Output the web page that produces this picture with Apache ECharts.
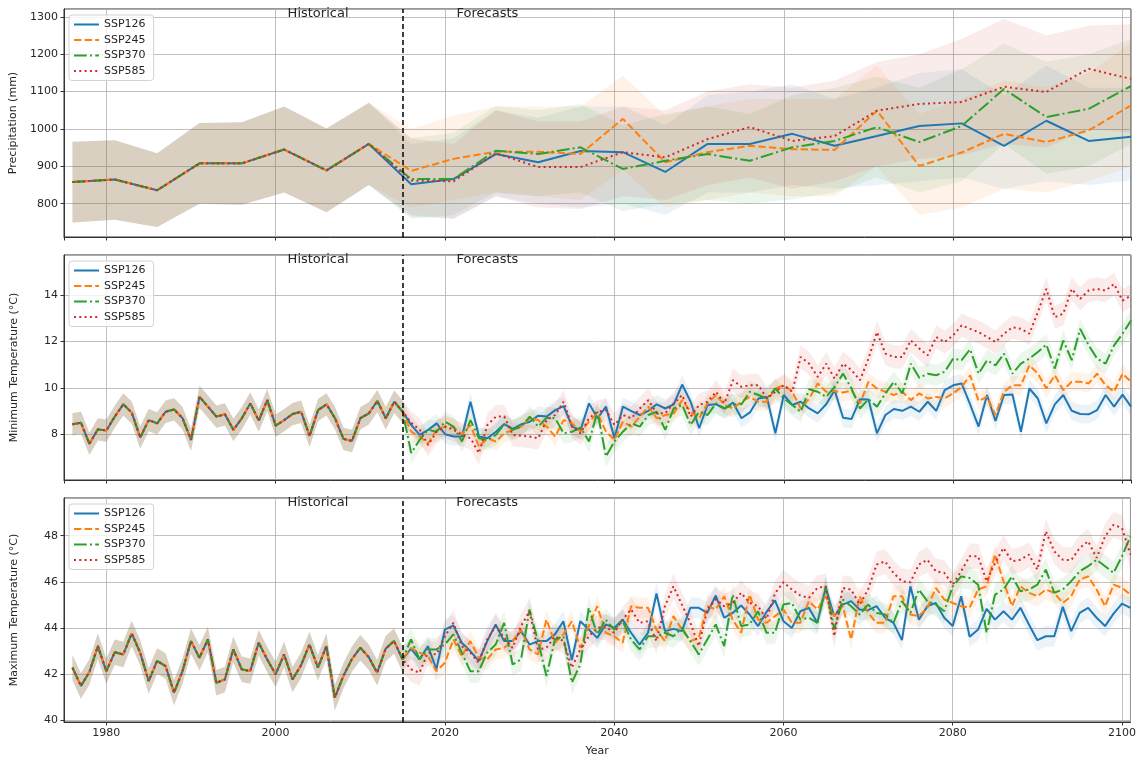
<!DOCTYPE html>
<html>
<head>
<meta charset="utf-8">
<title>Precipitation and temperature projections</title>
<script src="https://cdn.jsdelivr.net/npm/echarts@6/dist/echarts.min.js"></script>
<style>
html, body { margin: 0; padding: 0; background: #ffffff; }
#chart { width: 1139px; height: 759px; }
</style>
</head>
<body>
<div id="chart"></div>
<script>
// ---------------- data ----------------
const scenarios = ['SSP126', 'SSP245', 'SSP370', 'SSP585'];

// Precipitation (mm), 5-year steps
const precipHistYears = [1976, 1981, 1986, 1991, 1996, 2001, 2006, 2011];
const precipHist = [858, 865, 836, 908, 908, 945, 889, 960];
const precipHistLow = [750, 757, 738, 800, 797, 830, 777, 850];
const precipHistHigh = [966, 970, 935, 1016, 1018, 1060, 1001, 1070];

const precipYears = [2016, 2021, 2026, 2031, 2036, 2041, 2046, 2051, 2056, 2061, 2066, 2071, 2076, 2081, 2086, 2091, 2096, 2101];
const precip126 = [852, 866, 933, 911, 941, 938, 885, 960, 960, 987, 955, 981, 1008, 1015, 955, 1022, 968, 979];
const precip245 = [888, 920, 939, 939, 933, 1027, 911, 938, 955, 946, 944, 1049, 901, 937, 987, 965, 996, 1063];
const precip370 = [866, 866, 942, 933, 951, 893, 915, 933, 915, 951, 968, 1005, 965, 1008, 1107, 1032, 1054, 1115];
const precip585 = [862, 860, 935, 898, 898, 938, 924, 973, 1005, 968, 981, 1049, 1067, 1072, 1113, 1099, 1161, 1134];

const precip126Low = [765, 760, 820, 800, 790, 800, 770, 830, 830, 850, 840, 850, 860, 870, 840, 860, 850, 862];
const precip126High = [960, 975, 1050, 1030, 1060, 1060, 1010, 1090, 1100, 1120, 1080, 1110, 1150, 1160, 1090, 1170, 1110, 1110];
const precip245Low = [790, 810, 830, 820, 810, 890, 790, 810, 830, 820, 820, 900, 770, 790, 840, 830, 860, 900];
const precip245High = [1000, 1036, 1060, 1060, 1060, 1143, 1036, 1060, 1080, 1080, 1080, 1170, 1040, 1080, 1130, 1110, 1150, 1230];
const precip370Low = [760, 770, 830, 820, 830, 780, 800, 810, 800, 812, 830, 870, 830, 860, 960, 880, 900, 960];
const precip370High = [975, 990, 1062, 1050, 1067, 1010, 1040, 1060, 1040, 1090, 1110, 1140, 1110, 1160, 1228, 1180, 1200, 1241];
const precip585Low = [770, 760, 820, 790, 786, 820, 810, 850, 870, 840, 860, 900, 920, 930, 960, 950, 1000, 990];
const precip585High = [975, 960, 1050, 1020, 1020, 1060, 1050, 1100, 1120, 1110, 1130, 1179, 1200, 1241, 1295, 1250, 1277, 1280];

// Annual temperature series
const tempHistYears = [1976, 1977, 1978, 1979, 1980, 1981, 1982, 1983, 1984, 1985,
  1986, 1987, 1988, 1989, 1990, 1991, 1992, 1993, 1994, 1995,
  1996, 1997, 1998, 1999, 2000, 2001, 2002, 2003, 2004, 2005,
  2006, 2007, 2008, 2009, 2010, 2011, 2012, 2013, 2014, 2015];
const tempYears = [2016, 2017, 2018, 2019, 2020, 2021, 2022, 2023, 2024, 2025,
  2026, 2027, 2028, 2029, 2030, 2031, 2032, 2033, 2034, 2035,
  2036, 2037, 2038, 2039, 2040, 2041, 2042, 2043, 2044, 2045,
  2046, 2047, 2048, 2049, 2050, 2051, 2052, 2053, 2054, 2055,
  2056, 2057, 2058, 2059, 2060, 2061, 2062, 2063, 2064, 2065,
  2066, 2067, 2068, 2069, 2070, 2071, 2072, 2073, 2074, 2075,
  2076, 2077, 2078, 2079, 2080, 2081, 2082, 2083, 2084, 2085,
  2086, 2087, 2088, 2089, 2090, 2091, 2092, 2093, 2094, 2095,
  2096, 2097, 2098, 2099, 2100, 2101];

// Minimum temperature (°C)
const tminHist = [8.43, 8.5, 7.59, 8.21, 8.16, 8.76, 9.29, 8.93, 7.86, 8.61,
  8.47, 8.97, 9.07, 8.69, 7.76, 9.61, 9.19, 8.76, 8.86, 8.19,
  8.69, 9.33, 8.59, 9.47, 8.37, 8.61, 8.87, 8.97, 7.93, 9.04,
  9.29, 8.69, 7.8, 7.71, 8.69, 8.9, 9.43, 8.69, 9.4, 8.97];
const tmin126 = [8.4, 7.97, 8.19, 8.47, 8.0, 7.9, 7.9, 9.4, 7.9, 7.83,
  8.11, 8.44, 8.23, 8.43, 8.54, 8.8, 8.76, 9.04, 9.21, 8.33,
  8.19, 9.33, 8.69, 9.19, 7.83, 9.19, 9.0, 8.83, 9.01, 9.29,
  9.11, 9.29, 10.14, 9.4, 8.26, 9.26, 9.29, 9.11, 9.37, 8.69,
  8.94, 9.54, 9.6, 8.04, 9.69, 9.26, 9.4, 9.11, 8.9, 9.29,
  9.9, 8.71, 8.66, 9.51, 9.5, 8.04, 8.83, 9.09, 9.01, 9.19,
  8.97, 9.4, 9.01, 9.9, 10.11, 10.19, 9.29, 8.33, 9.69, 8.57,
  9.69, 9.71, 8.11, 9.97, 9.54, 8.47, 9.29, 9.69, 9.01, 8.87,
  8.86, 9.04, 9.69, 9.19, 9.71, 9.19];
const tmin245 = [8.11, 7.9, 7.61, 8.19, 8.33, 8.29, 8.0, 8.4, 7.47, 7.83,
  7.69, 8.04, 8.19, 8.33, 8.69, 8.61, 8.33, 7.9, 8.61, 8.47,
  8.11, 8.54, 8.9, 8.11, 7.76, 8.54, 8.33, 8.76, 9.19, 8.69,
  8.83, 8.9, 9.47, 8.97, 8.69, 9.33, 9.69, 9.26, 9.11, 9.4,
  9.61, 9.4, 9.4, 9.97, 10.11, 9.83, 9.11, 9.54, 10.19, 9.83,
  9.86, 9.8, 9.88, 9.33, 10.26, 9.97, 9.83, 9.69, 9.83, 9.47,
  9.76, 9.54, 9.61, 9.54, 9.76, 10.04, 10.54, 9.43, 9.61, 8.83,
  9.83, 10.11, 10.11, 10.97, 10.61, 9.97, 10.54, 9.9, 10.26, 10.26,
  10.19, 10.61, 10.11, 9.83, 10.61, 10.26];
const tmin370 = [7.19, 7.76, 8.19, 8.11, 8.54, 8.33, 7.69, 8.61, 7.83, 7.76,
  7.97, 8.43, 8.19, 8.33, 8.76, 8.33, 8.71, 8.69, 8.04, 8.11,
  8.29, 7.69, 8.97, 7.04, 7.69, 8.11, 8.47, 8.33, 8.83, 8.97,
  8.19, 9.11, 9.26, 8.4, 8.97, 8.83, 9.33, 9.11, 9.29, 9.29,
  9.83, 9.69, 9.54, 9.97, 9.54, 9.26, 8.97, 9.94, 9.83, 9.61,
  10.04, 10.61, 9.97, 9.11, 9.51, 9.19, 9.76, 10.26, 9.76, 11.04,
  10.43, 10.61, 10.54, 10.69, 11.26, 11.19, 11.66, 10.61, 11.19, 10.97,
  11.47, 10.61, 11.04, 11.26, 11.54, 11.86, 10.83, 12.04, 11.19, 12.54,
  11.83, 11.26, 11.04, 11.83, 12.33, 12.9];
const tmin585 = [8.5, 8.19, 7.54, 8.11, 8.33, 8.19, 7.97, 7.83, 7.19, 8.4,
  8.76, 8.76, 7.97, 7.94, 7.9, 7.83, 8.61, 8.83, 9.4, 8.33,
  8.04, 8.69, 8.97, 9.04, 8.4, 8.83, 8.69, 9.11, 9.47, 8.9,
  8.9, 9.33, 9.69, 8.76, 9.26, 9.4, 9.83, 9.33, 10.33, 10.04,
  10.11, 10.11, 9.55, 9.83, 10.11, 9.83, 11.33, 11.04, 10.47, 11.04,
  10.4, 11.04, 10.76, 10.33, 11.26, 12.4, 11.47, 11.33, 11.33, 12.04,
  11.69, 11.4, 12.19, 11.97, 12.26, 12.69, 12.54, 12.4, 12.19, 11.97,
  12.33, 12.61, 12.54, 12.33, 13.26, 14.26, 13.04, 13.19, 14.26, 13.83,
  14.19, 14.26, 14.19, 14.47, 13.76, 13.97];
// half-width of the ensemble range (°C): historical, then SSP126..SSP585
const tminHistSpread = 0.48;
const tminSpread = [0.4, 0.4, 0.45, 0.5];

// Maximum temperature (°C)
const tmaxHist = [42.29, 41.5, 42.1, 43.22, 42.14, 42.96, 42.86, 43.77, 42.94, 41.71,
  42.58, 42.36, 41.21, 42.14, 43.44, 42.72, 43.51, 41.64, 41.78, 43.08,
  42.22, 42.14, 43.37, 42.65, 42.0, 42.86, 41.78, 42.39, 43.29, 42.29,
  43.22, 40.99, 41.93, 42.65, 43.15, 42.75, 42.07, 43.11, 43.44, 42.65];
const tmax126 = [43.11, 42.65, 43.22, 42.22, 43.94, 44.12, 43.37, 43.01, 42.58, 43.44,
  44.16, 43.44, 43.44, 43.87, 43.29, 43.44, 43.44, 43.73, 44.3, 42.62,
  44.3, 43.94, 43.58, 44.16, 44.01, 44.37, 43.8, 43.29, 43.8, 45.5,
  43.87, 43.97, 43.87, 44.88, 44.88, 44.66, 45.41, 44.45, 44.66, 44.98,
  44.59, 44.09, 44.7, 45.2, 44.3, 44.01, 44.73, 44.88, 44.23, 45.74,
  44.52, 45.02, 45.17, 44.81, 44.78, 44.95, 44.45, 44.23, 43.48, 45.81,
  44.37, 44.95, 45.09, 44.45, 44.09, 45.38, 43.63, 43.94, 44.83, 44.37,
  44.73, 44.37, 44.88, 44.16, 43.48, 43.65, 43.65, 44.92, 43.87, 44.66,
  44.88, 44.45, 44.09, 44.63, 45.06, 44.88];
const tmax245 = [43.15, 42.94, 42.79, 42.14, 42.5, 43.51, 42.79, 43.44, 42.72, 42.65,
  43.08, 43.15, 43.44, 43.94, 43.08, 42.86, 44.37, 43.37, 43.73, 44.3,
  43.15, 44.09, 44.95, 43.8, 43.65, 43.37, 44.95, 44.88, 44.88, 43.94,
  43.44, 44.52, 43.94, 43.44, 43.58, 44.95, 44.81, 45.38, 44.37, 43.8,
  45.45, 44.37, 44.23, 44.52, 44.81, 44.23, 44.23, 45.17, 44.81, 45.38,
  44.52, 44.95, 43.51, 45.38, 44.66, 44.23, 44.23, 45.38, 45.38, 44.59,
  44.52, 44.88, 45.74, 45.24, 45.09, 44.95, 44.88, 45.67, 45.81, 47.18,
  46.03, 44.95, 45.81, 45.53, 45.38, 45.67, 45.53, 45.09, 45.38, 46.1,
  46.24, 45.67, 44.95, 45.88, 45.74, 45.45];
const tmax370 = [43.51, 42.65, 43.08, 43.08, 43.29, 43.73, 42.94, 42.14, 42.14, 42.94,
  43.29, 44.23, 42.43, 42.65, 44.81, 43.44, 41.93, 43.51, 43.65, 41.64,
  42.43, 44.88, 43.73, 44.37, 43.94, 44.3, 43.51, 43.08, 43.65, 43.65,
  43.8, 43.65, 44.01, 43.44, 42.86, 43.51, 44.16, 43.22, 45.45, 44.09,
  44.16, 44.73, 43.8, 43.8, 45.02, 45.09, 44.37, 44.45, 44.23, 45.81,
  43.94, 45.24, 44.95, 44.59, 45.02, 44.66, 44.59, 44.23, 45.17, 44.66,
  45.67, 45.17, 45.02, 44.73, 45.81, 46.24, 46.17, 45.88, 43.8, 45.45,
  45.67, 46.24, 45.6, 45.67, 45.88, 46.53, 45.53, 45.67, 46.03, 46.46,
  46.68, 46.96, 46.68, 46.39, 47.11, 47.97];
const tmax585 = [42.22, 42.07, 42.94, 42.86, 43.65, 44.23, 43.22, 42.94, 42.5, 43.51,
  44.09, 43.58, 43.15, 44.09, 44.73, 43.08, 43.15, 43.65, 43.44, 42.29,
  43.08, 43.65, 44.01, 44.06, 43.8, 44.37, 44.81, 44.23, 44.3, 43.44,
  44.95, 45.81, 45.02, 44.23, 43.22, 44.81, 45.24, 44.95, 45.09, 45.53,
  45.09, 44.95, 44.4, 45.5, 45.99, 45.67, 45.41, 45.31, 45.74, 45.81,
  43.65, 45.74, 45.67, 45.02, 45.67, 46.75, 46.89, 46.39, 46.03, 45.99,
  46.75, 46.96, 46.46, 46.39, 45.88, 46.46, 47.11, 47.11, 46.03, 46.82,
  47.47, 46.89, 46.96, 47.18, 46.53, 48.19, 47.32, 46.96, 46.94, 47.47,
  47.76, 47.04, 47.97, 48.47, 48.33, 47.18];
const tmaxHistSpread = 0.55;
const tmaxSpread = [0.45, 0.45, 0.5, 0.55];

// period annotations
const splitYear = 2015;
const periodLabels = [
  { text: 'Historical', year: 2005 },
  { text: 'Forecasts', year: 2025 }
];

// ---------------- styling ----------------
const colors = ['#1f77b4', '#ff7f0e', '#2ca02c', '#d62728'];
const bandAlpha = 0.09;
const dashes = ['solid', [7.4, 3.2], [12.8, 3.2, 2, 3.2], [2, 3.3]];
const FONT = 'DejaVu Sans';
const TEXT = '#262626';

const grids = [
  { left: 64, right: 8, top: 9, height: 228 },
  { left: 64, right: 8, top: 255, height: 225 },
  { left: 64, right: 8, top: 498, height: 224 }
];

function withSpread(vals, s, sign) { return vals.map(v => +(v + sign * s).toFixed(3)); }

const panels = [
  {
    name: 'Precipitation (mm)', yMin: 711, yMax: 1321, yStep: 100,
    histYears: precipHistYears, hist: precipHist, histLo: precipHistLow, histHi: precipHistHigh,
    years: precipYears,
    means: [precip126, precip245, precip370, precip585],
    los: [precip126Low, precip245Low, precip370Low, precip585Low],
    his: [precip126High, precip245High, precip370High, precip585High]
  },
  {
    name: 'Minimum Temperature (°C)', yMin: 6.03, yMax: 15.72, yStep: 2,
    histYears: tempHistYears, hist: tminHist,
    histLo: withSpread(tminHist, tminHistSpread, -1), histHi: withSpread(tminHist, tminHistSpread, 1),
    years: tempYears,
    means: [tmin126, tmin245, tmin370, tmin585],
    los: [tmin126, tmin245, tmin370, tmin585].map((m, i) => withSpread(m, tminSpread[i], -1)),
    his: [tmin126, tmin245, tmin370, tmin585].map((m, i) => withSpread(m, tminSpread[i], 1))
  },
  {
    name: 'Maximum Temperature (°C)', yMin: 39.94, yMax: 49.63, yStep: 2,
    histYears: tempHistYears, hist: tmaxHist,
    histLo: withSpread(tmaxHist, tmaxHistSpread, -1), histHi: withSpread(tmaxHist, tmaxHistSpread, 1),
    years: tempYears,
    means: [tmax126, tmax245, tmax370, tmax585],
    los: [tmax126, tmax245, tmax370, tmax585].map((m, i) => withSpread(m, tmaxSpread[i], -1)),
    his: [tmax126, tmax245, tmax370, tmax585].map((m, i) => withSpread(m, tmaxSpread[i], 1))
  }
];

// ---------------- option ----------------
const xAxes = [], yAxes = [], series = [], legends = [];

panels.forEach((p, g) => {
  const isBottom = g === panels.length - 1;
  xAxes.push({
    type: 'value', gridIndex: g, min: 1975, max: 2101,
    splitNumber: 6, minInterval: 20, maxInterval: 20,
    name: isBottom ? 'Year' : '', nameLocation: 'middle', nameGap: 24,
    nameTextStyle: { fontSize: 11, color: TEXT, fontFamily: FONT },
    axisLine: { show: true, lineStyle: { color: '#333', width: 1 } },
    axisTick: { show: true, length: 3.5, lineStyle: { color: '#333' } },
    axisLabel: {
      show: isBottom, fontSize: 11, color: TEXT, fontFamily: FONT, margin: 6,
      showMinLabel: false, showMaxLabel: false, formatter: v => String(v)
    },
    splitLine: { show: true, lineStyle: { color: '#b0b0b0', width: 0.8 } }
  });
  yAxes.push({
    type: 'value', gridIndex: g, min: p.yMin, max: p.yMax,
    splitNumber: 5, minInterval: p.yStep, maxInterval: p.yStep,
    name: p.name, nameLocation: 'middle', nameGap: 44,
    nameTextStyle: { fontSize: 11, color: TEXT, fontFamily: FONT },
    axisLine: { show: true, lineStyle: { color: '#333', width: 1 } },
    axisTick: { show: true, length: 3.5, lineStyle: { color: '#333' } },
    axisLabel: {
      fontSize: 11, color: TEXT, fontFamily: FONT, margin: 6,
      showMinLabel: false, showMaxLabel: false, formatter: v => String(v)
    },
    splitLine: { show: true, lineStyle: { color: '#b0b0b0', width: 0.8 } }
  });

  // shaded ensemble ranges: one polygon per scenario, drawn once
  scenarios.forEach((s, k) => {
    const xs = p.histYears.concat(p.years);
    const lo = p.histLo.concat(p.los[k]);
    const hi = p.histHi.concat(p.his[k]);
    const pts = xs.map((x, i) => [x, lo[i], hi[i]]);
    series.push({
      type: 'custom', name: s + ' range', xAxisIndex: g, yAxisIndex: g,
      silent: true, z: 1, clip: true, progressive: 0,
      data: [pts[0]], encode: { x: 0, y: [1, 2] },
      renderItem: function (params, api) {
        const upper = pts.map(q => api.coord([q[0], q[2]]));
        const lower = pts.map(q => api.coord([q[0], q[1]])).reverse();
        return {
          type: 'polygon',
          shape: { points: upper.concat(lower) },
          style: { fill: colors[k], opacity: bandAlpha, stroke: null }
        };
      }
    });
  });

  // mean lines
  scenarios.forEach((s, k) => {
    const xs = p.histYears.concat(p.years);
    const ys = p.hist.concat(p.means[k]);
    const line = {
      type: 'line', name: s, xAxisIndex: g, yAxisIndex: g,
      data: xs.map((x, i) => [x, ys[i]]),
      symbol: 'none', showSymbol: false, z: 3, clip: true,
      lineStyle: { color: colors[k], width: 2, type: dashes[k], cap: 'butt' },
      itemStyle: { color: colors[k] }
    };
    if (k === 0) {
      line.markLine = {
        silent: true, symbol: ['none', 'none'], label: { show: false },
        lineStyle: { color: '#000', type: [5, 3], width: 1.5 },
        data: [{ xAxis: splitYear }], z: 5
      };
    }
    series.push(line);
  });

  legends.push({
    show: true, data: scenarios, orient: 'vertical', selectedMode: false,
    left: grids[g].left + 5, top: grids[g].top + 6,
    itemWidth: 25, itemHeight: 12, itemGap: 4.5,
    padding: [4, 8, 4, 4],
    backgroundColor: 'rgba(255,255,255,0.8)', borderColor: '#d3d3d3', borderWidth: 1, borderRadius: 3,
    itemStyle: { opacity: 0 },
    textStyle: { fontSize: 11, color: TEXT, fontFamily: FONT }
  });
});

const chart = echarts.init(document.getElementById('chart'), null, { renderer: 'canvas' });
chart.setOption({
  animation: false,
  backgroundColor: '#ffffff',
  textStyle: { fontFamily: FONT },
  grid: grids.map(gr => Object.assign({ show: true, borderColor: '#333', borderWidth: 1, backgroundColor: 'transparent' }, gr)),
  xAxis: xAxes,
  yAxis: yAxes,
  legend: legends,
  series: series
});

// period labels at the top of each panel
const graphics = [];
panels.forEach((p, g) => {
  periodLabels.forEach(lab => {
    const pt = chart.convertToPixel({ gridIndex: g }, [lab.year, p.yMax]);
    graphics.push({
      type: 'text', x: pt[0], y: pt[1] - 2, z: 10,
      style: {
        text: lab.text, fontSize: 13, fontFamily: FONT, fill: TEXT,
        align: 'center', verticalAlign: 'top', textAlign: 'center', textVerticalAlign: 'top'
      }
    });
  });
});
chart.setOption({ graphic: graphics });
</script>
</body>
</html>
